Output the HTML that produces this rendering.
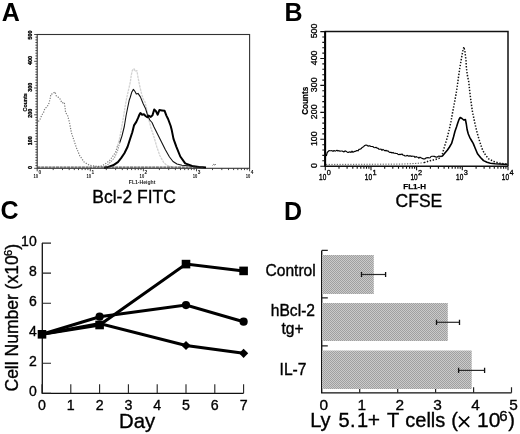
<!DOCTYPE html>
<html><head><meta charset="utf-8"><style>
html,body{margin:0;padding:0;background:#fff;}
body{width:520px;height:434px;overflow:hidden;}
svg{display:block;filter:grayscale(1);}
text{font-family:"Liberation Sans", sans-serif;}
.r{stroke:#000;stroke-width:0.35px;}
</style></head><body>
<svg width="520" height="434" viewBox="0 0 520 434">
<defs>
<pattern id="chk" width="2" height="2" patternUnits="userSpaceOnUse">
<rect width="2" height="2" fill="#cacaca"/><rect width="1" height="1" fill="#a0a0a0"/><rect x="1" y="1" width="1" height="1" fill="#a0a0a0"/>
</pattern>
</defs>
<rect width="520" height="434" fill="#fff"/>

<g font-weight="bold" font-size="25" fill="#000">
<text x="1.7" y="20.5">A</text>
<text x="284.5" y="20.7">B</text>
<text x="0.6" y="218.5">C</text>
<text x="284" y="219.5">D</text>
</g>
<rect x="37.2" y="34.5" width="212.4" height="133.8" fill="none" stroke="#333" stroke-width="1.1"/>
<path d="M34.2,168.3H37.2M35.4,165.6H37.2M35.4,162.9H37.2M35.4,160.3H37.2M35.4,157.6H37.2M35.4,154.9H37.2M35.4,152.2H37.2M35.4,149.6H37.2M35.4,146.9H37.2M35.4,144.2H37.2M34.2,141.5H37.2M35.4,138.9H37.2M35.4,136.2H37.2M35.4,133.5H37.2M35.4,130.8H37.2M35.4,128.2H37.2M35.4,125.5H37.2M35.4,122.8H37.2M35.4,120.1H37.2M35.4,117.5H37.2M34.2,114.8H37.2M35.4,112.1H37.2M35.4,109.4H37.2M35.4,106.8H37.2M35.4,104.1H37.2M35.4,101.4H37.2M35.4,98.7H37.2M35.4,96.0H37.2M35.4,93.4H37.2M35.4,90.7H37.2M34.2,88.0H37.2M35.4,85.3H37.2M35.4,82.7H37.2M35.4,80.0H37.2M35.4,77.3H37.2M35.4,74.6H37.2M35.4,72.0H37.2M35.4,69.3H37.2M35.4,66.6H37.2M35.4,63.9H37.2M34.2,61.3H37.2M35.4,58.6H37.2M35.4,55.9H37.2M35.4,53.2H37.2M35.4,50.6H37.2M35.4,47.9H37.2M35.4,45.2H37.2M35.4,42.5H37.2M35.4,39.9H37.2M35.4,37.2H37.2M34.2,34.5H37.2M37.2,168.3V171.3M53.2,168.3V170.1M62.5,168.3V170.1M69.2,168.3V170.1M74.3,168.3V170.1M78.5,168.3V170.1M82.1,168.3V170.1M85.2,168.3V170.1M87.9,168.3V170.1M90.3,168.3V171.3M106.3,168.3V170.1M115.6,168.3V170.1M122.3,168.3V170.1M127.4,168.3V170.1M131.6,168.3V170.1M135.2,168.3V170.1M138.3,168.3V170.1M141.0,168.3V170.1M143.4,168.3V171.3M159.4,168.3V170.1M168.7,168.3V170.1M175.4,168.3V170.1M180.5,168.3V170.1M184.7,168.3V170.1M188.3,168.3V170.1M191.4,168.3V170.1M194.1,168.3V170.1M196.5,168.3V171.3M212.5,168.3V170.1M221.8,168.3V170.1M228.5,168.3V170.1M233.6,168.3V170.1M237.8,168.3V170.1M241.4,168.3V170.1M244.5,168.3V170.1M247.2,168.3V170.1M249.6,168.3V171.3" stroke="#333" stroke-width="0.9" fill="none"/>
<text transform="translate(31.8,167.6) rotate(-90)" font-size="5.4" font-weight="bold" text-anchor="middle" fill="#000" stroke="#000" stroke-width="0.3">0</text>
<text transform="translate(31.8,140.7) rotate(-90)" font-size="5.4" font-weight="bold" text-anchor="middle" fill="#000" stroke="#000" stroke-width="0.3">100</text>
<text transform="translate(31.8,113.2) rotate(-90)" font-size="5.4" font-weight="bold" text-anchor="middle" fill="#000" stroke="#000" stroke-width="0.3">200</text>
<text transform="translate(31.8,87.3) rotate(-90)" font-size="5.4" font-weight="bold" text-anchor="middle" fill="#000" stroke="#000" stroke-width="0.3">300</text>
<text transform="translate(31.8,60.6) rotate(-90)" font-size="5.4" font-weight="bold" text-anchor="middle" fill="#000" stroke="#000" stroke-width="0.3">400</text>
<text transform="translate(31.8,35.1) rotate(-90)" font-size="5.4" font-weight="bold" text-anchor="middle" fill="#000" stroke="#000" stroke-width="0.3">500</text>
<text transform="translate(26.8,102.3) rotate(-90)" font-size="5.3" font-weight="bold" text-anchor="middle" fill="#000" stroke="#000" stroke-width="0.2">Counts</text>
<text x="33.4" y="177.7" font-size="5.6" font-weight="bold" fill="#111" textLength="4.6" lengthAdjust="spacingAndGlyphs">10</text>
<text x="38.4" y="174.2" font-size="4.8" font-weight="bold" fill="#111">0</text>
<text x="86.5" y="177.7" font-size="5.6" font-weight="bold" fill="#111" textLength="4.6" lengthAdjust="spacingAndGlyphs">10</text>
<text x="91.5" y="174.2" font-size="4.8" font-weight="bold" fill="#111">1</text>
<text x="139.6" y="177.7" font-size="5.6" font-weight="bold" fill="#111" textLength="4.6" lengthAdjust="spacingAndGlyphs">10</text>
<text x="144.6" y="174.2" font-size="4.8" font-weight="bold" fill="#111">2</text>
<text x="192.7" y="177.7" font-size="5.6" font-weight="bold" fill="#111" textLength="4.6" lengthAdjust="spacingAndGlyphs">10</text>
<text x="197.7" y="174.2" font-size="4.8" font-weight="bold" fill="#111">3</text>
<text x="245.8" y="177.7" font-size="5.6" font-weight="bold" fill="#111" textLength="4.6" lengthAdjust="spacingAndGlyphs">10</text>
<text x="250.8" y="174.2" font-size="4.8" font-weight="bold" fill="#111">4</text>
<text x="142.1" y="183.9" font-size="5.3" font-weight="bold" text-anchor="middle" fill="#222" textLength="26.6" lengthAdjust="spacingAndGlyphs">FL1-Height</text>
<text class="r" x="92.3" y="202.6" font-size="17.5" fill="#000">Bcl-2 FITC</text>
<polyline points="38.3,121.5 39.8,120.0 41.0,117.0 42.5,114.0 43.5,112.6 44.9,108.5 47.2,106.7 49.0,103.0 50.0,99.3 50.9,94.2 52.7,93.8 55.0,91.9 56.4,96.0 58.0,97.0 59.7,98.4 62.0,103.0 64.3,102.5 65.2,109.0 65.6,112.6 67.6,115.5 69.5,122.6 71.4,132.8 74.0,140.4 76.5,148.0 79.7,155.6 84.1,162.0 89.2,165.1 96.8,166.4 100.6,166.4 104.4,164.5 109.5,160.7 113.3,155.6 115.8,151.8 117.5,146.0" fill="none" stroke="#7a7a7a" stroke-width="1.2" stroke-dasharray="1.2 1.4"/>
<polyline points="117.5,146.0 119.6,138.5 121.5,128.0 123.5,117.0 124.9,108.0 126.5,99.0 128.5,90.0 130.3,82.0 131.3,75.0 132.3,70.5 134.0,68.8 135.5,71.5 136.9,70.6 138.0,77.3 139.8,86.5 141.5,93.4 143.2,99.2 145.0,102.0 146.5,108.0 148.4,118.0 151.0,128.0 154.0,137.0 156.8,146.8 159.8,155.5 163.7,162.5 167.0,165.5 172.0,166.8" fill="none" stroke="#d2d2d2" stroke-width="1.3" stroke-linejoin="round" stroke-dasharray="2.5 0.8"/>
<polyline points="103.0,167.4 105.0,166.5 108.2,164.2 111.5,161.2 114.6,157.5 117.5,151.0 119.8,142.5" fill="none" stroke="#999" stroke-width="1.1" stroke-dasharray="1.5 1"/>
<polyline points="119.8,142.5 122.0,135.8 124.3,126.5 126.1,115.5 127.6,108.0 129.2,100.3 130.2,97.5 131.7,92.3 133.4,89.4 135.0,91.5 136.3,94.0 138.0,93.4 140.4,96.9 143.2,103.8 145.5,108.4 147.5,115.0 149.8,120.0 152.0,122.5 154.0,127.0 157.5,134.0 161.5,142.0 165.5,150.0 169.5,157.0 173.0,161.5 177.0,164.0 182.0,165.2 188.0,165.8 195.0,166.7 205.0,167.5" fill="none" stroke="#111" stroke-width="1.1" stroke-linejoin="round"/>
<polyline points="104.0,167.8 108.2,166.9 113.1,165.3 117.9,162.1 121.1,158.1 124.4,153.2 127.6,146.8 130.0,139.2 132.3,132.3 134.0,125.4 136.3,121.9 138.1,117.9 139.5,114.5 140.4,113.0 142.1,114.7 143.9,114.3 145.6,116.0 147.3,117.3 148.6,115.6 150.8,116.9 152.5,115.2 154.2,109.5 156.0,111.3 157.7,114.7 159.4,110.0 162.0,110.4 164.6,110.8 166.4,115.6 168.1,119.0 170.7,126.0 171.6,129.4 173.5,138.9 176.4,146.8 180.3,156.5 185.2,163.4 192.1,165.9 198.9,166.9 206.0,167.6" fill="none" stroke="#000" stroke-width="2" stroke-linejoin="round"/>
<path d="M37.5,167.1H204" stroke="#333" stroke-width="1" stroke-dasharray="3 0.7"/>
<path d="M212.5,165.5l1.2,-1.2l1.2,0.8l1,-1" stroke="#555" stroke-width="0.8" fill="none"/>
<path d="M325.3,166.2V31.6H508.0V166.2" fill="none" stroke="#111" stroke-width="1.5"/>
<path d="M325.1,166.7V31.0" fill="none" stroke="#000" stroke-width="2"/>
<path d="M324.8,166.2H508.0" fill="none" stroke="#111" stroke-width="1.6"/>
<path d="M320.3,166.2H325.3M322.3,160.8H325.3M322.3,155.4H325.3M322.3,150.0H325.3M322.3,144.7H325.3M320.3,139.3H325.3M322.3,133.9H325.3M322.3,128.5H325.3M322.3,123.1H325.3M322.3,117.7H325.3M320.3,112.4H325.3M322.3,107.0H325.3M322.3,101.6H325.3M322.3,96.2H325.3M322.3,90.8H325.3M320.3,85.4H325.3M322.3,80.1H325.3M322.3,74.7H325.3M322.3,69.3H325.3M322.3,63.9H325.3M320.3,58.5H325.3M322.3,53.1H325.3M322.3,47.8H325.3M322.3,42.4H325.3M322.3,37.0H325.3M320.3,31.6H325.3M325.3,166.2V170.2M339.0,166.2V168.8M347.1,166.2V168.8M352.8,166.2V168.8M357.2,166.2V168.8M360.8,166.2V168.8M363.9,166.2V168.8M366.5,166.2V168.8M368.9,166.2V168.8M371.0,166.2V170.2M384.7,166.2V168.8M392.8,166.2V168.8M398.5,166.2V168.8M402.9,166.2V168.8M406.5,166.2V168.8M409.6,166.2V168.8M412.2,166.2V168.8M414.6,166.2V168.8M416.6,166.2V170.2M430.4,166.2V168.8M438.4,166.2V168.8M444.1,166.2V168.8M448.6,166.2V168.8M452.2,166.2V168.8M455.2,166.2V168.8M457.9,166.2V168.8M460.2,166.2V168.8M462.3,166.2V170.2M476.1,166.2V168.8M484.1,166.2V168.8M489.8,166.2V168.8M494.3,166.2V168.8M497.9,166.2V168.8M500.9,166.2V168.8M503.6,166.2V168.8M505.9,166.2V168.8M508.0,166.2V170.2" stroke="#111" stroke-width="1.1" fill="none"/>
<text transform="translate(317.4,165.6) rotate(-90)" font-size="8.8" text-anchor="middle" fill="#000" stroke="#000" stroke-width="0.3">0</text>
<text transform="translate(317.4,138.7) rotate(-90)" font-size="8.8" text-anchor="middle" fill="#000" stroke="#000" stroke-width="0.3">100</text>
<text transform="translate(317.4,111.8) rotate(-90)" font-size="8.8" text-anchor="middle" fill="#000" stroke="#000" stroke-width="0.3">200</text>
<text transform="translate(317.4,84.8) rotate(-90)" font-size="8.8" text-anchor="middle" fill="#000" stroke="#000" stroke-width="0.3">300</text>
<text transform="translate(317.4,57.9) rotate(-90)" font-size="8.8" text-anchor="middle" fill="#000" stroke="#000" stroke-width="0.3">400</text>
<text transform="translate(317.4,31.0) rotate(-90)" font-size="8.8" text-anchor="middle" fill="#000" stroke="#000" stroke-width="0.3">500</text>
<text transform="translate(307.9,100.7) rotate(-90)" font-size="8.2" font-weight="bold" text-anchor="middle" fill="#000" stroke="#000" stroke-width="0.2">Counts</text>
<text x="326.3" y="180.1" font-size="9.4" text-anchor="end" fill="#000" stroke="#000" stroke-width="0.4" textLength="7.2" lengthAdjust="spacingAndGlyphs">10</text>
<text x="326.8" y="175.4" font-size="7.4" fill="#000" stroke="#000" stroke-width="0.3">0</text>
<text x="372.0" y="180.1" font-size="9.4" text-anchor="end" fill="#000" stroke="#000" stroke-width="0.4" textLength="7.2" lengthAdjust="spacingAndGlyphs">10</text>
<text x="372.5" y="175.4" font-size="7.4" fill="#000" stroke="#000" stroke-width="0.3">1</text>
<text x="417.6" y="180.1" font-size="9.4" text-anchor="end" fill="#000" stroke="#000" stroke-width="0.4" textLength="7.2" lengthAdjust="spacingAndGlyphs">10</text>
<text x="418.1" y="175.4" font-size="7.4" fill="#000" stroke="#000" stroke-width="0.3">2</text>
<text x="463.3" y="180.1" font-size="9.4" text-anchor="end" fill="#000" stroke="#000" stroke-width="0.4" textLength="7.2" lengthAdjust="spacingAndGlyphs">10</text>
<text x="463.8" y="175.4" font-size="7.4" fill="#000" stroke="#000" stroke-width="0.3">3</text>
<text x="509.0" y="180.1" font-size="9.4" text-anchor="end" fill="#000" stroke="#000" stroke-width="0.4" textLength="7.2" lengthAdjust="spacingAndGlyphs">10</text>
<text x="509.5" y="175.4" font-size="7.4" fill="#000" stroke="#000" stroke-width="0.3">4</text>
<text x="403.3" y="189.1" font-size="8" font-weight="bold" fill="#000" stroke="#000" stroke-width="0.25">FL1-H</text>
<text class="r" x="395.6" y="206.6" font-size="17.5" fill="#000">CFSE</text>
<polyline points="326.3,156.0 327.2,152.5 329.0,150.6 330.0,150.8 331.0,150.7 332.0,150.6 333.0,151.4 334.0,150.5 335.0,151.1 336.0,150.8 337.0,150.3 338.0,151.1 339.0,150.6 340.0,151.3 341.0,151.0 342.0,151.0 343.0,151.4 344.0,151.9 345.0,150.9 346.0,151.2 347.0,151.9 348.0,152.5 349.0,152.1 350.0,151.8 351.0,152.5 352.0,151.2 353.0,152.3 354.0,151.6 355.0,151.4 356.0,150.9 357.0,150.6 358.0,150.8 359.0,149.4 360.0,149.3 361.0,148.8 362.2,147.4 363.5,146.7 364.8,145.5 366.0,145.0 367.0,145.3 368.0,146.1 369.0,145.9 370.0,145.9 371.0,146.5 372.0,146.5 373.0,146.6 374.0,147.5 375.0,147.7 376.0,147.3 377.0,148.1 378.0,148.3 379.0,149.2 380.0,149.3 381.0,149.0 382.0,150.3 383.0,149.4 384.0,150.1 385.0,150.9 386.0,150.3 387.0,151.1 388.0,150.8 389.0,151.9 390.0,152.4 391.0,152.3 392.0,153.0 393.0,152.4 394.0,153.2 395.0,153.2 396.0,153.4 397.0,153.5 398.0,154.2 399.0,154.6 400.0,154.2 401.0,154.6 402.0,154.0 403.0,155.1 404.0,155.3 405.0,156.0 406.0,156.0 407.0,155.4 408.0,155.7 409.0,156.3 410.0,155.6 411.0,156.4 412.0,156.1 413.0,156.2 414.0,156.2 415.0,157.4 416.0,156.6 417.0,157.0 418.0,157.3 419.0,158.2 420.0,157.2 421.0,157.9 422.0,158.2 423.0,158.8 424.0,158.8 425.0,158.8 426.0,157.8 427.0,157.9 428.0,157.5 429.0,158.0 430.0,157.8 431.0,156.5 432.0,156.3 433.0,156.2 434.3,156.4 435.6,156.9 436.9,157.2 437.9,156.6 439.0,156.1 440.0,156.6 441.0,156.5 442.0,156.4" fill="none" stroke="#000" stroke-width="1.15" stroke-linejoin="round"/>
<polyline points="442.0,156.4 444.5,153.5 447.3,150.3 449.5,147.0 451.6,143.4 453.5,137.0 455.0,131.3 456.5,127.0 457.6,123.5 459.0,119.5 460.2,117.5 462.0,118.5 463.7,120.0 465.4,119.5 466.3,124.0 467.1,129.5 468.3,134.0 469.7,137.3 471.5,140.5 473.2,143.4 475.3,148.5 477.5,153.7 480.5,157.5 483.5,160.6 487.0,162.3 490.4,163.2 495.0,163.8 499.0,164.0 507.5,164.5" fill="none" stroke="#000" stroke-width="1.6" stroke-linejoin="round"/>
<polyline points="326.0,164.4 360.0,164.3 400.0,164.1 410.0,163.8 420.0,163.1 426.0,162.4" fill="none" stroke="#555" stroke-width="1" stroke-dasharray="1.2 1.5"/>
<polyline points="424.0,162.6 430.0,160.8 435.0,159.6 440.0,158.0 442.5,153.5 444.7,146.0 447.0,138.5 449.0,130.5 451.0,121.5 452.5,113.0 454.2,104.0 455.9,95.0 457.3,86.0 458.4,77.7 459.8,68.0 461.5,58.0 463.0,50.0 463.9,46.9 465.0,52.0 466.0,60.7 466.4,68.0 467.5,76.0 468.7,81.5 469.6,90.0 470.3,96.0 471.2,103.0 472.5,112.0 474.2,120.0 475.9,127.8 477.5,134.0 479.2,139.9 481.0,145.5 482.7,150.3 485.5,155.0 488.7,158.9 494.0,161.5 499.0,163.2 507.5,164.0" fill="none" stroke="#111" stroke-width="1.5" stroke-dasharray="1.4 1.6"/>
<path d="M42.3,243.1V393.3H243.6" fill="none" stroke="#111" stroke-width="1.3"/>
<path d="M42.0,393.3h9M42.0,363.3h9M42.0,333.2h9M42.0,303.2h9M42.0,273.1h9M42.0,243.1h9M42.0,393.3v-9M70.8,393.3v-9M99.6,393.3v-9M128.4,393.3v-9M157.2,393.3v-9M186.0,393.3v-9M214.8,393.3v-9M243.6,393.3v-9" stroke="#222" stroke-width="1.1" fill="none"/>
<text class="r" x="36.7" y="395.9" font-size="14" text-anchor="end" fill="#000">0</text>
<text class="r" x="36.7" y="365.9" font-size="14" text-anchor="end" fill="#000">2</text>
<text class="r" x="36.7" y="335.8" font-size="14" text-anchor="end" fill="#000">4</text>
<text class="r" x="36.7" y="305.8" font-size="14" text-anchor="end" fill="#000">6</text>
<text class="r" x="36.7" y="275.7" font-size="14" text-anchor="end" fill="#000">8</text>
<text class="r" x="36.7" y="245.7" font-size="14" text-anchor="end" fill="#000">10</text>
<text class="r" x="42.0" y="409.7" font-size="14.2" text-anchor="middle" fill="#000">0</text>
<text class="r" x="70.8" y="409.7" font-size="14.2" text-anchor="middle" fill="#000">1</text>
<text class="r" x="99.6" y="409.7" font-size="14.2" text-anchor="middle" fill="#000">2</text>
<text class="r" x="128.4" y="409.7" font-size="14.2" text-anchor="middle" fill="#000">3</text>
<text class="r" x="157.2" y="409.7" font-size="14.2" text-anchor="middle" fill="#000">4</text>
<text class="r" x="186.0" y="409.7" font-size="14.2" text-anchor="middle" fill="#000">5</text>
<text class="r" x="214.8" y="409.7" font-size="14.2" text-anchor="middle" fill="#000">6</text>
<text class="r" x="243.6" y="409.7" font-size="14.2" text-anchor="middle" fill="#000">7</text>
<text class="r" x="119" y="427.8" font-size="21" fill="#000" textLength="36.2" lengthAdjust="spacingAndGlyphs">Day</text>
<text class="r" transform="translate(17.7,391.5) rotate(-90)" font-size="17.5" fill="#000">Cell Number (x10<tspan font-size="11" dy="-5.3" dx="-0.6">6</tspan><tspan dy="5.3">)</tspan></text>
<polyline points="42.0,334.3 99.6,323.5 186.0,345.5 243.6,353.3" fill="none" stroke="#000" stroke-width="3" stroke-linejoin="miter"/>
<polyline points="42.0,334.3 99.6,316.7 186.0,305.1 243.6,321.7" fill="none" stroke="#000" stroke-width="3" stroke-linejoin="miter"/>
<polyline points="42.0,334.3 99.6,325.0 186.0,264.1 243.6,270.9" fill="none" stroke="#000" stroke-width="3" stroke-linejoin="miter"/>
<rect x="37.7" y="330.0" width="8.6" height="8.6" fill="#000"/>
<rect x="95.3" y="320.7" width="8.6" height="8.6" fill="#000"/>
<rect x="181.7" y="259.8" width="8.6" height="8.6" fill="#000"/>
<rect x="239.3" y="266.6" width="8.6" height="8.6" fill="#000"/>
<circle cx="99.6" cy="316.7" r="4.1" fill="#000"/>
<circle cx="186.0" cy="305.1" r="4.1" fill="#000"/>
<circle cx="243.6" cy="321.7" r="4.1" fill="#000"/>
<path d="M186.0,340.9L190.6,345.5L186.0,350.1L181.4,345.5Z" fill="#000"/>
<path d="M243.6,348.7L248.2,353.3L243.6,357.9L239.0,353.3Z" fill="#000"/>
<path d="M321.7,250.4V392.8H511.5" fill="none" stroke="#111" stroke-width="1.35"/>
<path d="M321.8,250.4h6M321.8,297.9h6M321.8,345.8h6M359.7,392.8v-5.5M397.7,392.8v-5.5M435.6,392.8v-5.5M473.6,392.8v-5.5M511.5,392.8v-5.5" stroke="#222" stroke-width="1.2" fill="none"/>
<rect x="322" y="255" width="51.8" height="39.0" fill="url(#chk)"/>
<path d="M361.5,274.5H385.6" stroke="#2a2a2a" stroke-width="1.2" fill="none"/><path d="M361.5,271.9v5.2M385.6,271.9v5.2" stroke="#111" stroke-width="1.3" fill="none"/>
<rect x="322" y="303" width="125.8" height="38.0" fill="url(#chk)"/>
<path d="M436.5,322.3H459.5" stroke="#2a2a2a" stroke-width="1.2" fill="none"/><path d="M436.5,319.7v5.2M459.5,319.7v5.2" stroke="#111" stroke-width="1.3" fill="none"/>
<rect x="322" y="350.5" width="149.7" height="38.5" fill="url(#chk)"/>
<path d="M458.6,370.4H484.6" stroke="#2a2a2a" stroke-width="1.2" fill="none"/><path d="M458.6,367.8v5.2M484.6,367.8v5.2" stroke="#111" stroke-width="1.3" fill="none"/>
<text class="r" x="323.8" y="409.9" font-size="15.4" text-anchor="middle" fill="#000">0</text>
<text class="r" x="361.7" y="409.9" font-size="15.4" text-anchor="middle" fill="#000">1</text>
<text class="r" x="399.7" y="409.9" font-size="15.4" text-anchor="middle" fill="#000">2</text>
<text class="r" x="437.6" y="409.9" font-size="15.4" text-anchor="middle" fill="#000">3</text>
<text class="r" x="475.6" y="409.9" font-size="15.4" text-anchor="middle" fill="#000">4</text>
<text class="r" x="513.5" y="409.9" font-size="15.4" text-anchor="middle" fill="#000">5</text>
<g class="r" font-size="15.6" text-anchor="middle" fill="#000">
<text x="290.6" y="276.2">Control</text>
<text x="292.9" y="315.6">hBcl-2</text>
<text x="292.6" y="333.6">tg+</text>
<text x="293" y="375.1">IL-7</text>
</g>
<g class="r" font-size="20" fill="#000"><text x="310.2" y="427.3">Ly</text><text x="338.5" y="427.3">5</text><text x="349.9" y="427.3">.</text><text x="357" y="427.3">1</text><text x="367.8" y="427.3" font-size="21">+</text><text x="387" y="427.3">T</text><text x="405.3" y="427.3">cells</text><text x="451.3" y="427.3">(</text></g><path d="M458.9,416.6L469.2,426.8M469.2,416.6L458.9,426.8" stroke="#000" stroke-width="1.75" fill="none"/><g class="r" font-size="20" fill="#000"><text x="477" y="427.3" font-size="21">10</text><text x="499.2" y="421.3" font-size="15">6</text><text x="508.3" y="427.3">)</text></g>
</svg>
</body></html>
